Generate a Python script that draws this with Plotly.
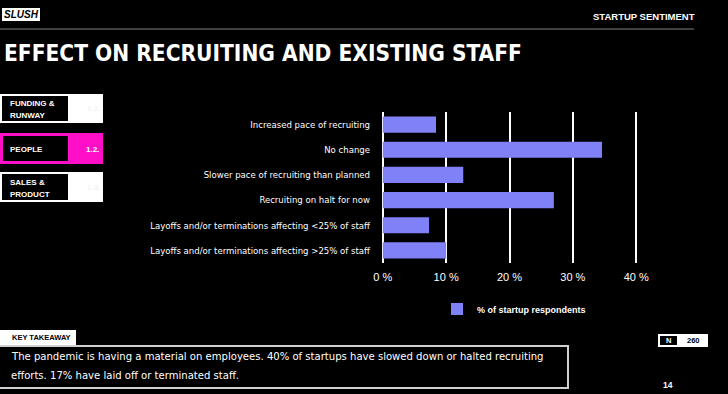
import plotly.graph_objects as go

categories = [
    "Increased pace of recruiting",
    "No change",
    "Slower pace of recruiting than planned",
    "Recruiting on halt for now",
    "Layoffs and/or terminations affecting <25% of staff",
    "Layoffs and/or terminations affecting >25% of staff",
]
values = [8.4, 34.6, 12.7, 27.0, 7.3, 10.0]
series_name = "% of startup respondents"
x_ticks = [0, 10, 20, 30, 40]
x_tick_labels = ["0 %", "10 %", "20 %", "30 %", "40 %"]

W, H = 728, 394
L, R = 379, 88
T, B = 112, 131
PW = W - L - R
PH = H - T - B

BG = "#000000"
BAR = "#8080f7"
PINK = "#ff0fc8"
COND = "DejaVu Sans Condensed, Roboto, sans-serif"
SANS = "Liberation Sans, Arial, sans-serif"


def px(x):
    return (x - L) / PW


def py(y):
    return (H - B - y) / PH


fig = go.Figure()
fig.add_trace(go.Bar(
    y=categories, x=values, orientation="h",
    marker=dict(color=BAR, line=dict(width=0)),
    name=series_name, showlegend=True,
))

shapes = []
annotations = []


def rect(x0, y0, x1, y1, fill=None, line_color=None, lw=0, layer="above"):
    shapes.append(dict(
        type="rect", xref="paper", yref="paper",
        x0=px(x0), x1=px(x1), y0=py(y1), y1=py(y0),
        fillcolor=fill if fill else "rgba(0,0,0,0)",
        line=dict(color=line_color if line_color else "rgba(0,0,0,0)", width=lw),
        layer=layer,
    ))


def text(x, y, s, size, color="#ffffff", family=SANS, weight="bold", xanchor="left"):
    annotations.append(dict(
        xref="paper", yref="paper", x=px(x), y=py(y), text=s, showarrow=False,
        xanchor=xanchor, yanchor="middle",
        font=dict(size=size, color=color, family=family, weight=weight),
    ))


# Header
rect(2, 8, 40, 21, fill="#ffffff")
text(21, 14.5, "<i>SLUSH</i>", 10, color="#000000", family=SANS, xanchor="center")
text(697, 17, "STARTUP SENTIMENT", 9.5, family=SANS, xanchor="right")
shapes.append(dict(type="line", xref="paper", yref="paper",
                   x0=px(0), x1=px(694), y0=py(29), y1=py(29),
                   line=dict(color="#555555", width=1.5)))
text(2, 52.5, "EFFECT ON RECRUITING AND EXISTING STAFF", 22.5, family=COND)

# Left navigation
rect(0, 94, 103, 123, fill="#ffffff")
rect(2, 96, 68, 121, fill="#000000")
text(8, 103.5, "FUNDING &", 8, family=SANS)
text(8, 115.5, "RUNWAY", 8, family=SANS)
text(85, 109, "1.1.", 8, color="#f2f2f2", family=SANS)

rect(0, 133, 103, 164, fill=PINK)
rect(3, 136, 68, 161, fill="#000000")
text(8, 149, "PEOPLE", 8, family=SANS)
text(84, 149, "1.2.", 8, family=SANS)

rect(0, 172, 103, 202, fill="#ffffff")
rect(2, 174, 68, 200, fill="#000000")
text(8, 182, "SALES &", 8, family=SANS)
text(8, 194.5, "PRODUCT", 8, family=SANS)
text(85, 187, "1.3.", 8, color="#f2f2f2", family=SANS)

# Key takeaway
rect(0, 330, 76, 345, fill="#ffffff")
text(10, 337.5, "KEY TAKEAWAY", 7.5, color="#000000", family=SANS)
rect(-2, 346, 568, 388, line_color="#d0d0d0", lw=2)
text(9, 356, "The pandemic is having a material on employees. 40% of startups have slowed down or halted recruiting",
     11.2, family=COND, weight="normal")
text(9, 375, "efforts. 17% have laid off or terminated staff.", 11.2, family=COND, weight="normal")

# N box and page number
rect(658, 334, 708, 347, fill="#ffffff")
rect(660, 336, 677, 345, fill="#000000")
text(668.5, 340.5, "N", 7.5, family=SANS, xanchor="center")
text(693, 340.5, "260", 7.5, color="#000000", family=SANS, xanchor="center")
text(661, 385, "14", 8.5, family=SANS)

fig.update_layout(
    width=W, height=H,
    margin=dict(l=L, r=R, t=T, b=B, pad=0),
    paper_bgcolor=BG, plot_bgcolor=BG,
    bargap=0.36,
    shapes=shapes,
    annotations=annotations,
    showlegend=True,
    legend=dict(
        orientation="h", x=px(437), y=py(309), xanchor="left", yanchor="middle",
        font=dict(size=9, color="#ffffff", family=SANS, weight="bold"),
        bgcolor="rgba(0,0,0,0)", itemwidth=30,
    ),
    xaxis=dict(
        range=[-0.6, 40.6], tickmode="array", tickvals=x_ticks, ticktext=x_tick_labels,
        showgrid=True, gridcolor="#ffffff", gridwidth=1.5,
        zeroline=False, showline=False, ticks="",
        tickfont=dict(size=11, color="#ffffff", family=SANS),
        ticklabelstandoff=6, fixedrange=True,
    ),
    yaxis=dict(
        categoryorder="array", categoryarray=categories, autorange="reversed",
        showgrid=False, zeroline=False, showline=False, ticks="",
        tickfont=dict(size=9.5, color="#ffffff", family=COND),
        ticklabelstandoff=8, fixedrange=True,
    ),
)

fig.write_html(
    "out.html",
    config={"displayModeBar": False},
    post_script="document.body.style.margin='0';document.body.style.background='#000';",
)
